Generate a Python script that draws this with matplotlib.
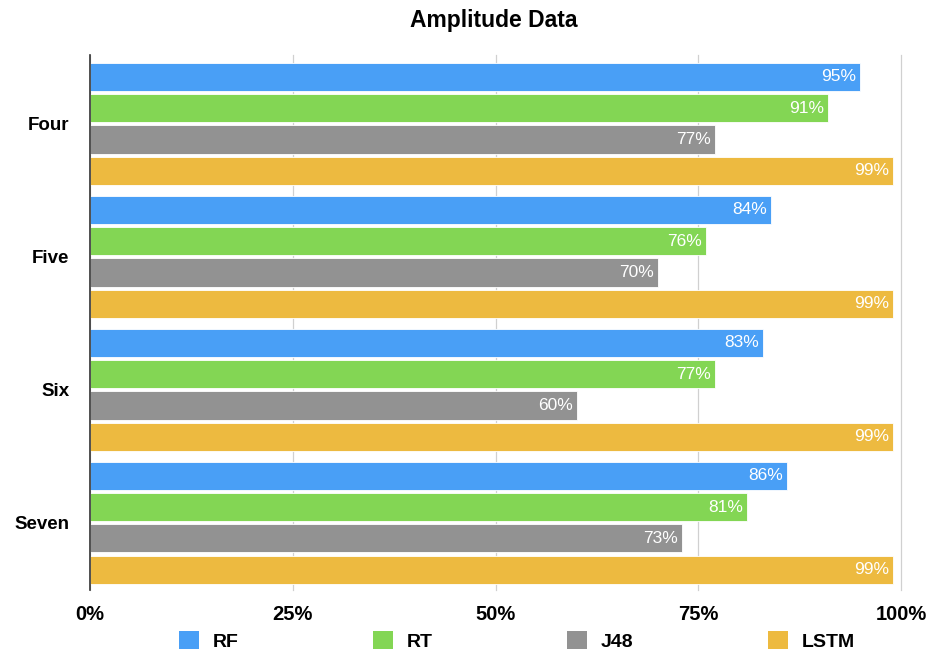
import numpy as np
import matplotlib
matplotlib.use("Agg")
import matplotlib.pyplot as plt
from matplotlib.patches import Patch
from matplotlib.ticker import FixedLocator

plt.rcParams['font.family'] = ['Liberation Sans', 'DejaVu Sans']

categories = ["Four", "Five", "Six", "Seven"]
series_names = ["RF", "RT", "J48", "LSTM"]
rf = [95, 84, 83, 86]
rt = [91, 76, 77, 81]
j48 = [77, 70, 60, 73]
lstm = [99, 99, 99, 99]
series_values = [rf, rt, j48, lstm]
colors = ["#499FF6", "#83D654", "#929292", "#EDBA40"]
x_ticks = [0, 25, 50, 75, 100]
x_tick_labels = ["0%", "25%", "50%", "75%", "100%"]

fig = plt.figure(figsize=(9.29, 6.55), dpi=100)
ax = fig.add_axes([0.0969, 0.0992, 0.8730, 0.8168])

group_pitch = 4.25
bar_h = 0.9
offsets = [-1.5, -0.5, 0.5, 1.5]
centers = np.arange(len(categories)) * group_pitch

for name, vals, col, off in zip(series_names, series_values, colors, offsets):
    ys = centers + off
    ax.barh(ys, vals, height=bar_h, color=col, edgecolor="#ffffff",
            linewidth=0.6, zorder=3, label=name)
    for y, v in zip(ys, vals):
        ax.text(v - 0.5, y, f"{v}%", ha="right", va="center", color="white",
                fontsize=12.5, zorder=4)

ax.set_xlim(0, 100)
ax.set_ylim(centers[-1] + 2.15, -2.2)
ax.set_yticks(centers)
ax.set_yticklabels(categories, fontsize=13.5, fontweight="bold")
ax.xaxis.set_major_locator(FixedLocator(x_ticks))
ax.set_xticklabels(x_tick_labels, fontsize=14.5, fontweight="bold")
ax.tick_params(axis="both", length=0)
ax.tick_params(axis="x", pad=11)
ax.tick_params(axis="y", pad=15)
ax.grid(axis="x", color="#d0d0d0", linewidth=0.9, zorder=0)
for gl in ax.get_xgridlines():
    gl.set_clip_on(False)
for s in ["top", "right", "bottom"]:
    ax.spines[s].set_visible(False)
ax.spines["left"].set_color("#333333")
ax.spines["left"].set_linewidth(1.2)
ax.spines["left"].set_zorder(5)

fig.text(0.532, 0.968, "Amplitude Data", ha="center", va="center",
         fontsize=16.5, fontweight="bold")

handles = [Patch(facecolor=c, edgecolor="none") for c in colors]
fig.legend(handles, series_names, loc="center", ncol=4,
           bbox_to_anchor=(0.5565, 0.021), frameon=False,
           prop={"size": 14, "weight": "bold"},
           handlelength=1.03, handleheight=1.03, handletextpad=0.72,
           columnspacing=6.9, borderpad=0, borderaxespad=0)

fig.savefig("out.png", dpi=100)
